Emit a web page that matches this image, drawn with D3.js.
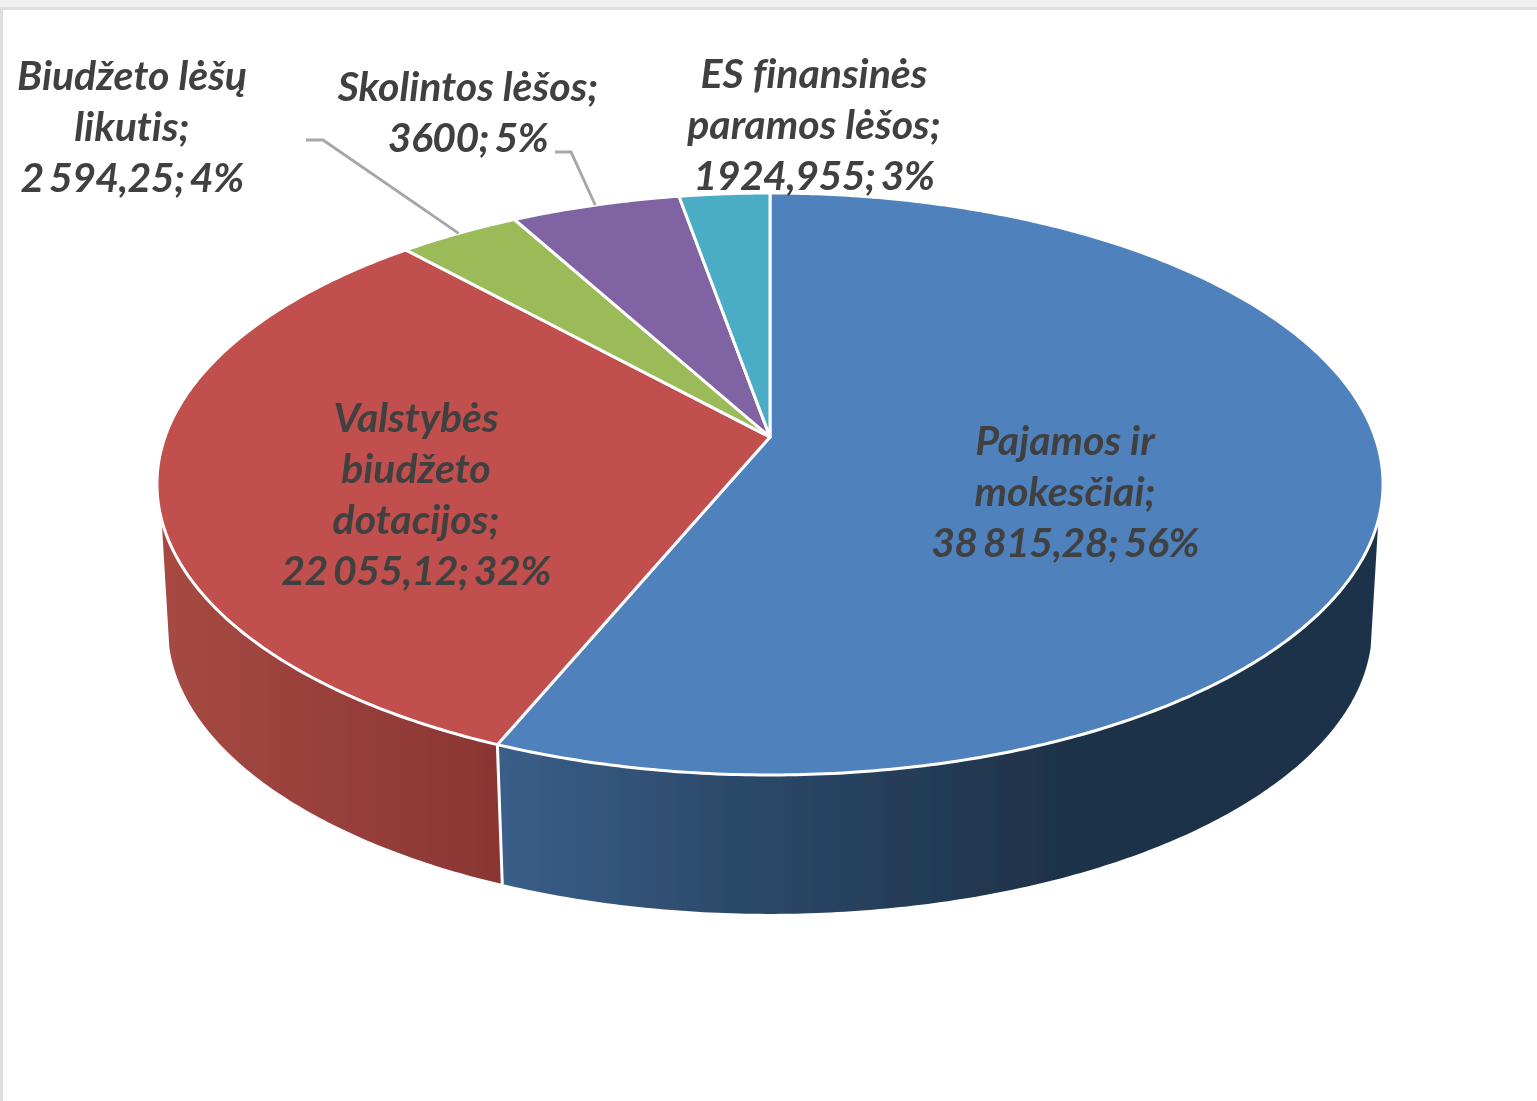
<!DOCTYPE html>
<html><head><meta charset="utf-8">
<script src="https://cdn.jsdelivr.net/npm/d3@7/dist/d3.min.js"></script>
<style>html,body{margin:0;padding:0;background:#fff;overflow:hidden}svg{display:block}</style>
</head><body><div id="chart"></div>
<script>
// ---- data, clockwise from 12 o'clock ----
const categories = ["Pajamos ir mokesčiai","Valstybės biudžeto dotacijos","Biudžeto lėšų likutis","Skolintos lėšos","ES finansinės paramos lėšos"];
const values = [38815.28,22055.12,2594.25,3600,1924.955];
const valueLabels = ["38 815,28","22 055,12","2 594,25","3600","1924,955"];
const percentLabels = ["56%","32%","4%","5%","3%"];
const nameLines = [["Pajamos ir","mokesčiai;"],["Valstybės","biudžeto","dotacijos;"],["Biudžeto lėšų","likutis;"],["Skolintos lėšos;"],["ES finansinės","paramos lėšos;"]];
const colors = ["#4f81bd","#c0504d","#9bbb59","#8064a2","#4bacc6"];

// ---- layout ----
const W=1537,H=1101;
const cx=770, topApexY=437, botApexY=582;
const d=605,a=283.4,c=-0.1615, botScale=0.982;
const wallTop=106.2*Math.PI/180, wallBot=103*Math.PI/180;
const labelPos=[[1065,455],[416,432],[132,90],[468,101],[814,88]];
const leaderElbows=[null,null,[[306,140],[323,140]],[[555,152],[571,152]],null];

const svg=d3.select("#chart").append("svg").attr("width",W).attr("height",H);
const defs=svg.append("defs");
const softFilter=defs.append("filter").attr("id","soft")
  .attr("filterUnits","userSpaceOnUse").attr("x",0).attr("y",0).attr("width",W).attr("height",H);
softFilter.append("feGaussianBlur").attr("stdDeviation",0.5);

function gradient(id,x1,x2,stops){
  const g=defs.append("linearGradient").attr("id",id).attr("gradientUnits","userSpaceOnUse")
    .attr("x1",x1).attr("x2",x2).attr("y1",0).attr("y2",0);
  stops.forEach(([o,col])=>g.append("stop").attr("offset",o).attr("stop-color",col));
}
gradient("wall0",498,1060,[[0,"#3a5e88"],[0.45,"#2b4868"],[1,"#1f3249"]]);
gradient("wall1",160,503,[[0,"#a64a43"],[1,"#8a3533"]]);

// page frame
svg.append("rect").attr("width",W).attr("height",7).attr("fill","#f0f0f0");
svg.append("rect").attr("y",7).attr("width",W).attr("height",3).attr("fill","#dedede");
svg.append("rect").attr("y",7).attr("width",3).attr("height",H).attr("fill","#dedede");

const root=svg.append("g").attr("filter","url(#soft)");

const pieData=d3.pie().sort(null).value(v=>v)(values);

// perspective projection of the unit circle
const scaleU=d3.scaleLinear().domain([-1,1]).range([-d,d]);
const scaleV=d3.scaleLinear().domain([-1,1]).range([-a,a]);
function project(t,apexY,s){
  const u=Math.sin(t),v=-Math.cos(t),den=1+c*v;
  return [cx+s*scaleU(u)/den, apexY+s*scaleV(v)/den];
}
const rimTop=t=>project(t,topApexY,1), rimBot=t=>project(t,botApexY,botScale);
const samples=(t0,t1)=>{const n=Math.max(2,Math.ceil((t1-t0)/0.01));return d3.range(n+1).map(i=>t0+(t1-t0)*i/n);};
const line=d3.line();

// side walls
const walls=pieData.map((p,i)=>({p,i})).filter(o=>o.p.startAngle<2*Math.PI-wallTop&&o.p.endAngle>wallTop);
root.selectAll("path.wall").data(walls).join("path").attr("class","wall")
  .attr("fill",o=>`url(#wall${o.i})`)
  .attr("d",o=>{
    const t0=Math.max(o.p.startAngle,wallTop),t1=Math.min(o.p.endAngle,2*Math.PI-wallTop);
    const b0=Math.max(o.p.startAngle,wallBot),b1=Math.min(o.p.endAngle,2*Math.PI-wallBot);
    return line([...samples(t0,t1).map(rimTop),...samples(b0,b1).reverse().map(rimBot)])+"Z";
  });
// seam between walls
root.append("path").attr("d",line([rimTop(pieData[0].endAngle),rimBot(pieData[0].endAngle)]))
  .attr("stroke","#fff").attr("stroke-width",3).attr("fill","none");

// top face
root.selectAll("path.slice").data(pieData).join("path").attr("class","slice")
  .attr("fill",(p,i)=>colors[i]).attr("stroke","#fff").attr("stroke-width",3).attr("stroke-linejoin","round")
  .attr("d",p=>line([[cx,topApexY],...samples(p.startAngle,p.endAngle).map(rimTop)])+"Z");

// leader lines
root.selectAll("path.leader").data(pieData.map((p,i)=>({p,i})).filter(o=>leaderElbows[o.i]))
  .join("path").attr("class","leader").attr("fill","none").attr("stroke","#a6a6a6").attr("stroke-width",2.8)
  .attr("d",o=>line([...leaderElbows[o.i],rimTop((o.p.startAngle+o.p.endAngle)/2)]));

// labels
const lh=51;
const labels=root.selectAll("text.label").data(categories).join("text").attr("class","label")
  .attr("text-anchor","middle").attr("fill","#404040")
  .style("font-family","Lato, 'Open Sans', sans-serif").style("font-weight",700).style("font-style","italic")
  .style("font-size","41px").style("font-variant-ligatures","none");
labels.each(function(_,i){
  const names=nameLines[i];
  const lines=[...names,`${valueLabels[i]}; ${percentLabels[i]}`];
  d3.select(this).selectAll("tspan").data(lines).join("tspan")
    .attr("x",labelPos[i][0]).attr("y",(l,j)=>labelPos[i][1]+j*lh)
    .style("letter-spacing",(l,j)=>j===names.length?"-0.6px":null)
    .style("word-spacing",(l,j)=>j===names.length?"-3px":null)
    .text(l=>l);
});
</script></body></html>
